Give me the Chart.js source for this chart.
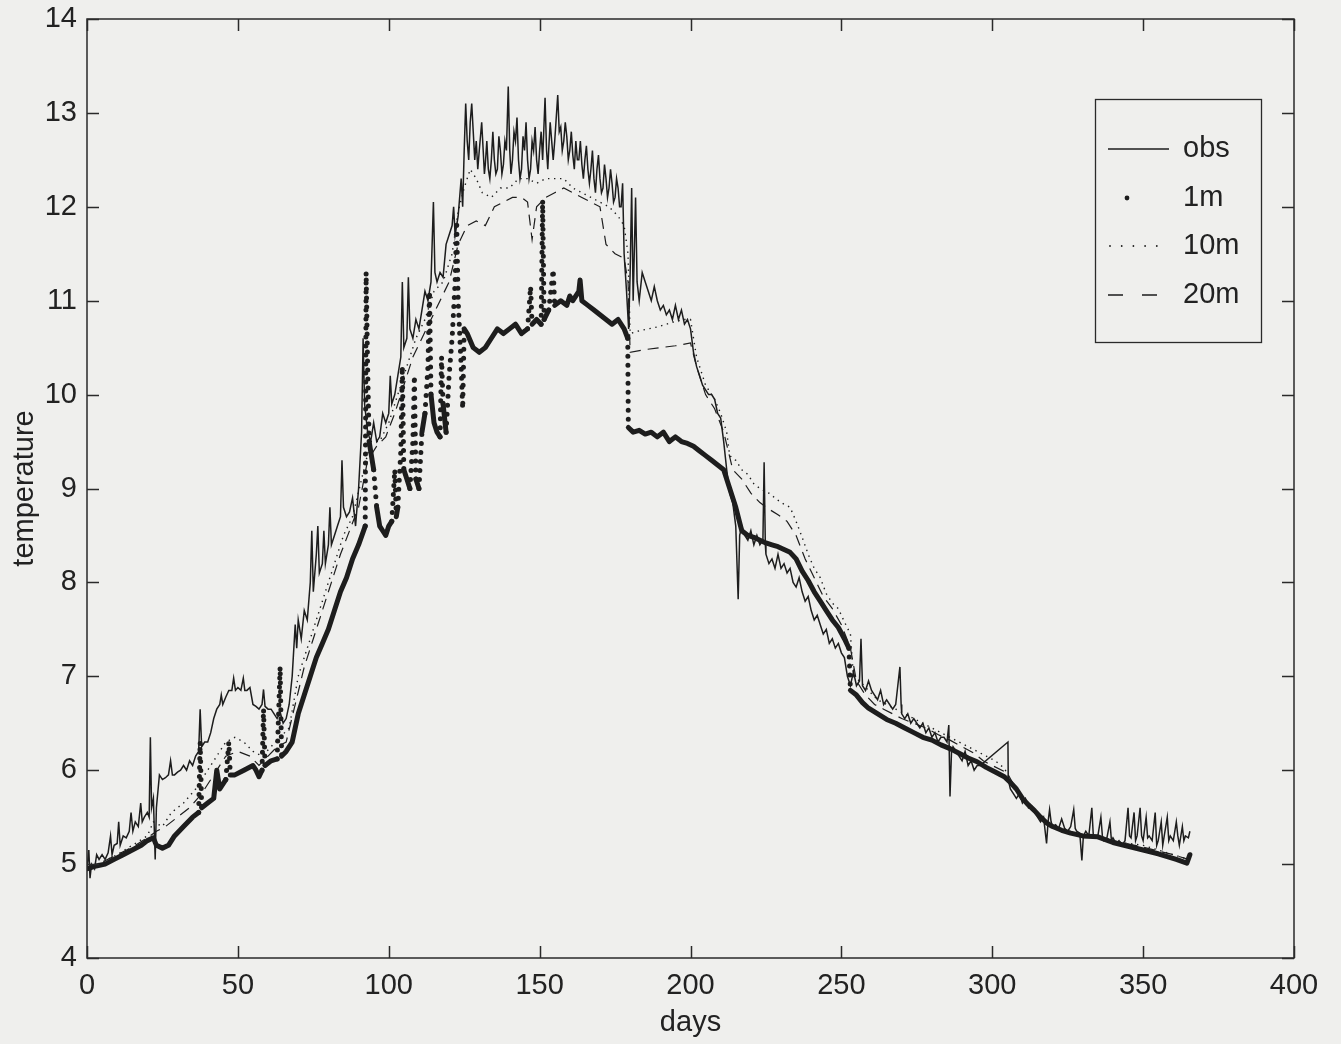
<!DOCTYPE html>
<html>
<head>
<meta charset="utf-8">
<title>temperature vs days</title>
<script src="https://cdn.jsdelivr.net/npm/chart.js@4.4.1/dist/chart.umd.min.js"></script>
<style>
  html, body { margin: 0; padding: 0; background: #efefed; }
  canvas { display: block; }
</style>
</head>
<body>
<canvas id="c" width="1341" height="1044"></canvas>
<script>
// Series names as shown in the key
const seriesNames = ['obs', '1m', '10m', '20m'];

// Axis ranges and tick spacing
const xTicks = { min: 0, max: 400, step: 50 };
const yTicks = { min: 4, max: 14, step: 1 };

// Observed temperature, [day, temperature]
const obs = [
  [0,4.95],[0.6,5.15],[1,4.85],[1.5,5.0],[2.5,4.95],[3.2,5.1],[4,5.05],[5,5.1],[6,5.05],[7,5.12],
  [7.8,5.3],[8.3,5.1],[9,5.2],[10,5.22],[10.5,5.45],[11,5.2],[12,5.3],[13,5.28],[14,5.35],[14.6,5.55],
  [15.2,5.35],[16,5.45],[17,5.4],[17.8,5.65],[18.3,5.45],[19,5.5],[20,5.55],[20.6,5.5],[21,6.35],[21.4,5.6],
  [22,5.7],[22.6,5.05],[23,5.6],[24,5.95],[25,5.9],[26,5.92],[27,5.95],[27.7,6.1],[28.3,5.95],[29,5.95],
  [30,5.98],[31,6.0],[32,6.05],[33,6.0],[34,6.1],[35,6.05],[36,6.15],[37,6.2],[37.5,6.65],[38,6.25],
  [39,6.3],[40,6.3],[41,6.4],[42,6.55],[43,6.65],[44,6.7],[44.5,6.8],[45,6.7],[46,6.78],[47,6.85],
  [48,6.85],[48.6,6.98],[49.2,6.85],[50,6.88],[51,6.85],[51.8,6.98],[52.3,6.85],[53,6.85],[54,6.88],[55,6.7],
  [56,6.68],[57,6.65],[58,6.7],[58.5,6.86],[59,6.68],[60,6.65],[61,6.65],[62,6.6],[63,6.55],[64,6.62],
  [65,6.5],[66,6.55],[67,6.7],[68,7.0],[69,7.55],[69.5,7.3],[70,7.6],[71,7.4],[72,7.7],[73,7.6],
  [74,8.0],[74.5,8.55],[75,7.9],[76,8.3],[76.5,8.6],[77,8.1],[78,8.2],[78.5,8.55],[79,8.2],[80,8.4],
  [80.5,8.8],[81,8.4],[82,8.5],[83,8.6],[84,8.7],[84.5,9.3],[85,8.8],[86,8.7],[87,8.75],[88,8.9],
  [89,8.6],[90,9.0],[91,9.6],[91.5,10.6],[92,9.9],[93,9.6],[94,9.5],[95,9.7],[96,9.5],[97,9.55],
  [98,9.8],[99,9.7],[100,9.8],[100.5,10.2],[101,9.9],[102,10.0],[103,10.2],[104,10.4],[104.5,11.2],[105,10.5],
  [106,10.6],[106.5,11.25],[107,10.7],[108,10.6],[109,10.8],[110,10.7],[111,10.9],[112,11.1],[113,11.0],[114,11.2],
  [114.8,12.05],[115.3,11.3],[116,11.2],[117,11.3],[118,11.25],[119,11.6],[120,11.7],[121,11.8],[121.5,12.0],[122,11.7],
  [123,11.9],[124,12.3],[124.5,12.0],[125,12.6],[125.5,13.1],[126,12.7],[126.5,12.5],[127,12.9],[127.5,13.1],[128,12.8],
  [128.5,12.5],[129,12.7],[129.5,12.4],[130,12.6],[130.8,12.9],[131.3,12.6],[131.7,12.35],[132,12.45],[132.5,12.7],[133,12.4],
  [133.5,12.3],[134,12.5],[134.5,12.8],[135,12.5],[135.5,12.35],[136,12.4],[136.5,12.75],[137,12.6],[137.5,12.35],[138,12.45],
  [138.5,12.7],[139,12.6],[139.6,13.28],[140.1,12.6],[140.5,12.35],[141,12.5],[141.5,12.8],[142,12.7],[142.5,12.95],[143,12.5],
  [143.5,12.3],[144,12.4],[144.5,12.75],[145,12.6],[145.5,12.9],[146,12.5],[146.5,12.3],[147,12.4],[147.5,12.7],[148,12.6],
  [148.5,12.85],[149,12.5],[149.5,12.35],[150,12.6],[150.5,12.8],[151,12.5],[151.8,13.16],[152.3,12.6],[152.7,12.4],[153,12.6],
  [153.5,12.9],[154,12.7],[154.5,12.5],[155,12.7],[156,13.19],[156.5,12.8],[157,12.85],[157.5,12.6],[158,12.7],[158.5,12.9],
  [159,12.75],[159.5,12.5],[160,12.6],[160.5,12.8],[161,12.55],[161.5,12.4],[162,12.7],[162.5,12.5],[163,12.5],[163.5,12.7],
  [164,12.45],[164.5,12.3],[165,12.5],[165.5,12.65],[166,12.4],[166.5,12.25],[167,12.4],[167.5,12.6],[168,12.3],[168.5,12.15],
  [169,12.4],[169.5,12.55],[170,12.3],[170.5,12.15],[171,12.2],[171.5,12.45],[172,12.3],[172.5,12.1],[173,12.2],[173.5,12.4],
  [174,12.25],[174.5,12.05],[175,12.1],[175.5,12.3],[176,12.2],[176.5,12.0],[177,12.0],[177.5,12.25],[178,11.5],[178.8,11.1],
  [179.5,10.7],[180,11.3],[180.5,12.2],[181,11.0],[181.8,12.1],[182.3,11.2],[183,11.0],[184,11.3],[185,11.2],[186,11.1],
  [187,11.0],[188,11.15],[189,11.0],[190,10.9],[191,10.95],[192,10.85],[193,10.9],[194,10.8],[195,10.95],[196,10.8],
  [197,10.9],[198,10.75],[199,10.8],[200,10.7],[201,10.45],[202,10.3],[203,10.2],[204,10.1],[205,10.05],[206,10.0],
  [207,10.0],[208,9.95],[209,9.8],[210,9.75],[211,9.5],[212,9.2],[213,8.95],[214,8.85],[215,8.6],[215.8,7.82],
  [216.3,8.5],[217,8.6],[218,8.5],[219,8.45],[220,8.55],[221,8.4],[222,8.5],[223,8.4],[224,8.45],[224.4,9.28],
  [224.8,8.4],[225,8.3],[226,8.2],[227,8.25],[228,8.15],[229,8.3],[230,8.15],[231,8.2],[232,8.1],[233,8.15],
  [234,8.0],[235,7.95],[236,8.05],[237,7.9],[238,7.8],[239,7.85],[240,7.7],[241,7.6],[242,7.65],[243,7.55],
  [244,7.45],[245,7.5],[246,7.35],[247,7.4],[248,7.3],[249,7.35],[250,7.25],[251,7.2],[252,7.0],[253,6.9],
  [254,7.05],[255,6.9],[256,6.95],[256.5,7.4],[257,6.9],[258,6.85],[259,6.95],[260,6.85],[261,6.8],[262,6.75],
  [263,6.85],[264,6.7],[265,6.75],[266,6.7],[267,6.65],[268,6.7],[269.4,7.1],[269.8,6.7],[270,6.6],[271,6.55],
  [272,6.6],[273,6.5],[274,6.55],[275,6.5],[276,6.45],[277,6.5],[278,6.4],[279,6.45],[280,6.35],[281,6.4],
  [282,6.3],[283,6.35],[284,6.35],[285,6.3],[285.6,6.48],[286,5.72],[286.5,6.2],[287,6.25],[288,6.2],[289,6.15],
  [290,6.1],[291,6.2],[292,6.05],[293,6.1],[294,6.0],[295,6.05],[296,6.05],[305.2,6.3],[305.3,5.9],[306,5.8],
  [307,5.75],[308,5.7],[309,5.75],[310,5.65],[311,5.7],[312,5.6],[313,5.62],[314,5.55],[315,5.5],[316,5.45],
  [317,5.5],[318,5.22],[318.5,5.45],[319,5.58],[319.5,5.45],[320,5.4],[321,5.42],[322,5.38],[323,5.48],[324,5.38],
  [325,5.35],[326,5.4],[327,5.58],[327.5,5.38],[328,5.35],[329,5.33],[329.7,5.04],[330.2,5.3],[331,5.35],[332,5.3],
  [333,5.6],[333.5,5.3],[334,5.28],[335,5.3],[336,5.5],[336.5,5.3],[337,5.25],[338,5.28],[339,5.45],[339.5,5.25],
  [340,5.28],[341,5.22],[342,5.25],[343,5.2],[344,5.25],[345,5.6],[345.5,5.3],[346,5.28],[347,5.55],[347.5,5.25],
  [348,5.3],[349,5.6],[349.5,5.3],[350,5.25],[351,5.5],[351.5,5.28],[352,5.3],[353,5.25],[354,5.55],[354.5,5.2],
  [355,5.25],[356,5.45],[356.5,5.2],[357,5.3],[358,5.5],[358.5,5.25],[359,5.3],[360,5.25],[361,5.45],[361.5,5.3],
  [362,5.2],[363,5.4],[363.5,5.25],[364,5.3],[365,5.28],[365.5,5.35]
];

// Model at 1 m, [day, temperature]
const m1 = [
  [0,4.95],[3,4.98],[6,5.0],[9,5.05],[12,5.1],[15,5.15],[18,5.2],[20,5.25],[22,5.28],[23,5.2],
  [25,5.17],[27,5.2],[29,5.3],[32,5.4],[35,5.5],[37,5.55],[37.5,6.3],[38,5.6],[40,5.65],[42,5.7],
  [43,6.0],[44,5.8],[46,5.9],[47,6.3],[47.5,5.95],[49,5.95],[52,6.0],[55,6.05],[56,6.0],[57,5.93],
  [58,6.0],[58.5,6.65],[59,6.05],[61,6.1],[63,6.12],[64,7.1],[64.5,6.15],[66,6.2],[68,6.3],[70,6.6],
  [72,6.8],[74,7.0],[76,7.2],[78,7.35],[80,7.5],[82,7.7],[84,7.9],[86,8.05],[88,8.25],[90,8.4],
  [92.2,8.6],[92.5,11.3],[93,10.3],[93.5,9.5],[94,9.4],[95,9.2],[96,8.8],[97,8.6],[98,8.55],[99,8.5],
  [100,8.6],[101,8.65],[102,9.2],[102.5,8.7],[103,8.8],[104,9.4],[104.5,10.3],[105,9.2],[106,9.1],[107,9.0],
  [108,9.5],[108.5,10.2],[109,9.1],[110,9.0],[111,9.6],[112,9.8],[113,10.3],[113.5,11.1],[114,10.0],[115,9.7],
  [116,9.6],[117,9.55],[117.5,10.4],[118,9.9],[119,9.6],[120,10.2],[121,10.6],[122,11.2],[122.5,11.85],[123,11.0],
  [124,10.3],[124.5,9.85],[125,10.7],[126,10.65],[128,10.5],[130,10.45],[132,10.5],[134,10.6],[136,10.7],[138,10.65],
  [140,10.7],[142,10.75],[144,10.65],[146,10.7],[147,11.15],[147.5,10.75],[149,10.8],[150.5,10.75],[151,12.07],[151.5,10.8],
  [153,10.9],[154.5,11.33],[155,10.95],[157,11.0],[159,10.95],[160,11.05],[161,11.0],[163,11.1],[163.4,11.22],[164,11.0],
  [166,10.95],[168,10.9],[170,10.85],[172,10.8],[174,10.75],[176,10.8],[178,10.7],[179.2,10.6],[179.4,9.65],[181,9.6],
  [183,9.62],[185,9.58],[187,9.6],[189,9.55],[191,9.6],[193,9.5],[195,9.55],[197,9.5],[199,9.48],[201,9.45],
  [203,9.4],[205,9.35],[207,9.3],[209,9.25],[211,9.2],[213,9.0],[215,8.8],[217,8.55],[219,8.5],[221,8.48],
  [223,8.45],[225,8.42],[227,8.4],[229,8.38],[231,8.35],[233,8.32],[235,8.25],[237,8.12],[239,8.02],[241,7.9],
  [243,7.8],[245,7.7],[247,7.6],[249,7.52],[251,7.4],[252.5,7.3],[253,6.85],[255,6.8],[257,6.72],[259,6.66],
  [261,6.62],[263,6.58],[265,6.54],[268,6.5],[271,6.45],[274,6.4],[277,6.35],[280,6.32],[283,6.27],[286,6.23],
  [289,6.18],[292,6.13],[295,6.09],[298,6.03],[301,5.98],[304,5.93],[306,5.87],[308,5.8],[310,5.7],[312,5.63],
  [314,5.57],[316,5.5],[318,5.44],[320,5.4],[323,5.36],[326,5.33],[330,5.3],[335,5.29],[340,5.23],[345,5.19],
  [350,5.15],[355,5.11],[358,5.08],[361,5.05],[364.5,5.01],[365.5,5.1]
];

// Model at 10 m, [day, temperature]
const m10 = [
  [0,4.95],[5,5.02],[10,5.1],[15,5.2],[20,5.3],[22,5.45],[25,5.4],[28,5.55],[32,5.65],[36,5.8],
  [40,6.0],[43,6.15],[46,6.3],[49,6.35],[52,6.3],[55,6.2],[58,6.15],[61,6.25],[64,6.35],[67,6.45],
  [70,7.0],[73,7.3],[76,7.6],[79,7.9],[82,8.2],[85,8.5],[88,8.7],[91,9.1],[94,9.5],[97,9.5],
  [100,9.7],[103,10.0],[106,10.3],[109,10.6],[112,10.8],[115,11.1],[118,11.2],[121,11.5],[123,11.95],[125,12.2],
  [127,12.4],[129,12.3],[131,12.15],[134,12.1],[137,12.2],[140,12.2],[143,12.3],[146,12.3],[149,12.25],[152,12.3],
  [155,12.3],[158,12.3],[161,12.2],[164,12.15],[167,12.1],[170,12.05],[173,12.0],[176,11.9],[178,11.8],[179.3,11.5],
  [180,10.65],[183,10.68],[186,10.7],[189,10.72],[192,10.75],[195,10.78],[198,10.8],[200,10.8],[202,10.4],[205,10.1],
  [208,9.95],[210,9.8],[212,9.6],[213,9.35],[215,9.3],[217,9.2],[219,9.15],[221,9.05],[223,9.0],[226,8.95],
  [230,8.85],[233,8.8],[235,8.65],[237,8.48],[239,8.3],[241,8.15],[243,8.05],[245,7.88],[247,7.78],[249,7.72],
  [251,7.58],[253,7.45],[254,7.0],[256,6.95],[259,6.85],[262,6.75],[265,6.7],[268,6.65],[271,6.6],[274,6.55],
  [277,6.5],[280,6.45],[283,6.4],[286,6.35],[289,6.3],[292,6.25],[295,6.2],[298,6.15],[301,6.1],[304,6.02],
  [306,5.9],[308,5.8],[311,5.65],[314,5.55],[317,5.45],[320,5.4],[325,5.35],[330,5.3],[335,5.3],[340,5.25],
  [345,5.22],[350,5.2],[355,5.15],[360,5.1],[365,5.05]
];

// Model at 20 m, [day, temperature]
const m20 = [
  [0,4.95],[5,5.02],[10,5.1],[15,5.18],[20,5.28],[23,5.35],[26,5.4],[30,5.5],[34,5.6],[38,5.75],
  [42,5.95],[46,6.15],[50,6.2],[54,6.15],[57,6.05],[60,6.15],[63,6.25],[66,6.3],[69,6.7],[72,7.1],
  [75,7.4],[78,7.7],[81,8.0],[84,8.3],[87,8.55],[90,8.8],[93,9.3],[96,9.45],[99,9.55],[102,9.8],
  [105,10.1],[108,10.4],[111,10.6],[114,10.8],[117,11.0],[120,11.2],[123,11.6],[126,11.8],[129,11.85],[132,11.8],
  [135,12.0],[138,12.05],[141,12.1],[144,12.1],[146,12.05],[147.5,11.65],[149,12.0],[152,12.1],[155,12.15],[158,12.2],
  [161,12.15],[164,12.1],[167,12.05],[170,12.0],[172,11.6],[175,11.5],[178,11.45],[179.3,11.2],[180,10.45],[185,10.48],
  [190,10.5],[195,10.52],[200,10.55],[202,10.3],[205,10.0],[208,9.85],[211,9.6],[214,9.2],[217,9.1],[220,8.95],
  [223,8.85],[226,8.78],[229,8.72],[232,8.65],[235,8.5],[238,8.25],[241,8.05],[244,7.85],[247,7.72],[250,7.55],
  [253,7.3],[255,6.95],[258,6.8],[261,6.7],[264,6.65],[267,6.6],[270,6.55],[274,6.5],[278,6.45],[282,6.38],
  [286,6.32],[290,6.25],[294,6.18],[297,6.1],[300,6.05],[305,5.97],[307,5.85],[310,5.7],[313,5.58],[316,5.5],
  [320,5.4],[325,5.35],[330,5.3],[340,5.25],[350,5.18],[360,5.1],[365,5.05]
];

const INK = '#1d1d1d';
const BG = '#efefed';
const FONT = '"Liberation Sans", Arial, Helvetica, sans-serif';

const toXY = arr => arr.map(([x, y]) => ({ x, y }));

// 1 m series: thick line, broken into separate dots on sharp vertical jumps
const steep = c => {
  const dy = Math.abs(c.p1.y - c.p0.y), dx = Math.abs(c.p1.x - c.p0.x);
  return dy > 30 && dy > 4 * dx;
};

// Box frame with inward tick marks on all four sides
const boxFrame = {
  id: 'boxFrame',
  afterDatasetsDraw(chart) {
    const { ctx, chartArea: a, scales } = chart;
    ctx.save();
    ctx.strokeStyle = '#2a2a2a';
    ctx.lineWidth = 1.5;
    ctx.strokeRect(a.left, a.top, a.right - a.left, a.bottom - a.top);
    const len = 12;
    ctx.beginPath();
    scales.x.ticks.forEach(t => {
      const px = Math.round(scales.x.getPixelForValue(t.value)) + 0.5;
      ctx.moveTo(px, a.bottom); ctx.lineTo(px, a.bottom - len);
      ctx.moveTo(px, a.top); ctx.lineTo(px, a.top + len);
    });
    scales.y.ticks.forEach(t => {
      const py = Math.round(scales.y.getPixelForValue(t.value)) + 0.5;
      ctx.moveTo(a.left, py); ctx.lineTo(a.left + len, py);
      ctx.moveTo(a.right, py); ctx.lineTo(a.right - len, py);
    });
    ctx.stroke();
    ctx.restore();
  }
};

// Key box in the upper right of the plot
const keyBox = {
  id: 'keyBox',
  afterDraw(chart) {
    const { ctx, chartArea: a } = chart;
    const w = 166, h = 243;
    const x0 = a.right - 33 - w, y0 = a.top + 80;
    ctx.save();
    ctx.fillStyle = BG;
    ctx.fillRect(x0, y0, w, h);
    ctx.strokeStyle = '#2a2a2a';
    ctx.lineWidth = 1.3;
    ctx.strokeRect(x0 + 0.5, y0 + 0.5, w, h);
    const rows = [50, 99, 147, 196];
    const sx0 = x0 + 13, sx1 = x0 + 74;
    ctx.strokeStyle = INK;
    ctx.fillStyle = INK;
    rows.forEach((dy, i) => {
      const y = y0 + dy;
      ctx.setLineDash([]);
      ctx.lineWidth = 1.3;
      if (i === 0) {
        ctx.beginPath(); ctx.moveTo(sx0, y); ctx.lineTo(sx1, y); ctx.stroke();
      } else if (i === 1) {
        ctx.beginPath(); ctx.arc(x0 + 32, y, 2.4, 0, Math.PI * 2); ctx.fill();
      } else if (i === 2) {
        for (let k = 0; k < 5; k++) {
          ctx.beginPath(); ctx.arc(sx0 + 2 + k * 11.7, y, 0.9, 0, Math.PI * 2); ctx.fill();
        }
      } else {
        ctx.setLineDash([15, 19]);
        ctx.beginPath(); ctx.moveTo(sx0, y); ctx.lineTo(sx1, y); ctx.stroke();
      }
      ctx.setLineDash([]);
      ctx.font = '29px ' + FONT;
      ctx.textBaseline = 'middle';
      ctx.textAlign = 'left';
      ctx.fillStyle = '#222';
      ctx.fillText(seriesNames[i], x0 + 88, y);
      ctx.fillStyle = INK;
    });
    ctx.restore();
  }
};

const thin = (data, dash, width) => ({
  data: toXY(data),
  borderColor: INK,
  borderWidth: width,
  borderDash: dash,
  pointRadius: 0,
  tension: 0,
  fill: false
});

const datasets = [
  Object.assign(thin(m20, [11, 7], 1.2), { label: seriesNames[3] }),
  Object.assign(thin(m10, [1.4, 4.6], 1.4), { label: seriesNames[2] }),
  {
    label: seriesNames[1],
    data: toXY(m1),
    borderColor: INK,
    borderWidth: 5,
    borderCapStyle: 'round',
    borderJoinStyle: 'round',
    pointRadius: 0,
    tension: 0,
    fill: false,
    segment: { borderDash: c => steep(c) ? [0, 9] : undefined }
  },
  Object.assign(thin(obs, [], 1.5), { label: seriesNames[0] })
];

new Chart(document.getElementById('c'), {
  type: 'line',
  data: { datasets },
  options: {
    responsive: false,
    animation: false,
    events: [],
    layout: { padding: { left: 0, right: 47, top: 19, bottom: 0 } },
    plugins: { legend: { display: false }, tooltip: { enabled: false } },
    scales: {
      x: {
        type: 'linear',
        min: xTicks.min, max: xTicks.max,
        grid: { display: false, drawTicks: false },
        border: { display: false },
        ticks: { stepSize: xTicks.step, padding: 11, color: '#222', font: { size: 29, family: FONT }, maxRotation: 0 },
        title: { display: true, text: 'days', color: '#222', font: { size: 29, family: FONT }, padding: { top: 0, bottom: 4 } },
        afterFit: s => { s.height = 86; }
      },
      y: {
        type: 'linear',
        min: yTicks.min, max: yTicks.max,
        grid: { display: false, drawTicks: false },
        border: { display: false },
        ticks: { stepSize: yTicks.step, padding: 10, color: '#222', font: { size: 29, family: FONT, lineHeight: 0.6 } },
        title: { display: true, text: 'temperature', color: '#222', font: { size: 29, family: FONT }, padding: { top: 8, bottom: 0 } },
        afterFit: s => { s.width = 87; }
      }
    }
  },
  plugins: [boxFrame, keyBox]
});
</script>
</body>
</html>
